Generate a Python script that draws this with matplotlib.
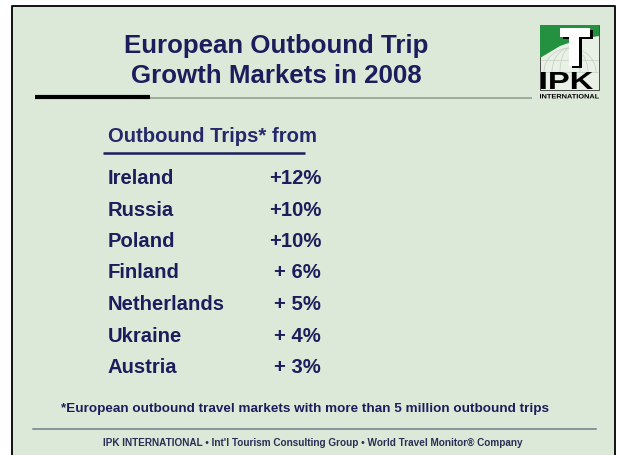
import matplotlib.pyplot as plt
from matplotlib.patches import Rectangle, Polygon, PathPatch, Arc
from matplotlib.textpath import TextPath
from matplotlib.font_manager import FontProperties
from matplotlib.transforms import Affine2D

# Table data
countries = ["Ireland", "Russia", "Poland", "Finland", "Netherlands", "Ukraine", "Austria"]
growth = [12, 10, 10, 6, 5, 4, 3]

title_lines = ["European Outbound Trip", "Growth Markets in 2008"]
table_header = "Outbound Trips* from"
footnote = "*European outbound travel markets with more than 5 million outbound trips"
footer = "IPK INTERNATIONAL \u2022 Int'l Tourism Consulting Group \u2022 World Travel Monitor\u00ae Company"

NAVY = "#1c1e5c"
BG = "#dce9d8"
FONT = "Liberation Sans"


def fitted_text(ax, s, x0, y0, x1, y1, color):
    """Draw text as a path stretched into the box (x0, y0)-(x1, y1)."""
    tp = TextPath((0, 0), s, size=1, prop=FontProperties(family=FONT, weight="bold"))
    ext = tp.get_extents()
    sx = (x1 - x0) / ext.width
    sy = (y1 - y0) / ext.height
    tr = Affine2D().translate(-ext.x0, -ext.y0).scale(sx, -sy).translate(x0, y1) + ax.transData
    ax.add_patch(PathPatch(tp, transform=tr, facecolor=color, lw=0, zorder=6))


def draw_logo(ax):
    # box with globe background
    ax.add_patch(Rectangle((540, 25), 59, 65, facecolor="#e9f0e6", edgecolor="#4a4a4a", lw=0.7, zorder=3))
    for w in (20, 36, 52):
        ax.add_patch(Arc((570, 72), w, 48, theta1=180, theta2=360, color="#c3cfc0", lw=0.5, zorder=3))
    ax.plot([541, 598], [60, 60], color="#c3cfc0", lw=0.5, zorder=3)
    ax.plot([541, 598], [72, 72], color="#c3cfc0", lw=0.5, zorder=3)
    # green sweep
    ax.add_patch(Polygon([(540, 25), (599, 25), (599, 36), (580, 39), (560, 46), (540, 58)],
                         closed=True, facecolor="#23913f", lw=0, zorder=4))
    # T with black shadow
    for dx, dy, c in ((2.5, 1.5, "black"), (0, 0, "white")):
        ax.add_patch(Rectangle((560 + dx, 28 + dy), 30, 9, facecolor=c, lw=0, zorder=5))
        ax.add_patch(Rectangle((569 + dx, 28 + dy), 10, 38, facecolor=c, lw=0, zorder=5))
    fitted_text(ax, "IPK", 541, 72, 593, 89, "black")
    fitted_text(ax, "INTERNATIONAL", 540, 94, 599, 98.5, "black")


def main():
    fig = plt.figure(figsize=(6.19, 4.55), dpi=100)
    ax = fig.add_axes([0, 0, 1, 1])
    ax.set_xlim(0, 619)
    ax.set_ylim(455, 0)
    ax.axis("off")

    # slide background and frame (no bottom edge, slide is cropped)
    ax.add_patch(Rectangle((12, 6), 603, 449, facecolor=BG, lw=0, zorder=0))
    ax.plot([12, 12, 615, 615], [455, 6, 6, 455], color="black", lw=1.3, zorder=1)

    # title
    for i, line in enumerate(title_lines):
        ax.text(276, 53 + 30 * i, line, ha="center", va="baseline", fontsize=18.6,
                fontweight="bold", color=NAVY, family=FONT)

    # title rule: thick black start then thin grey line
    ax.plot([150, 532], [98, 98], color="#8c9a8c", lw=1.1, solid_capstyle="butt")
    ax.plot([35, 150], [97, 97], color="black", lw=3, solid_capstyle="butt")

    draw_logo(ax)

    # table header and underline
    ax.text(108, 142, table_header, ha="left", va="baseline", fontsize=14.6,
            fontweight="bold", color="#25286a", family=FONT)
    ax.plot([103, 305], [153, 153], color=NAVY, lw=1.8, solid_capstyle="butt")

    # table rows
    for i, (name, val) in enumerate(zip(countries, growth)):
        yb = 184 + 31.5 * i
        ax.text(108, yb, name, ha="left", va="baseline", fontsize=14.6,
                fontweight="bold", color=NAVY, family=FONT)
        ax.text(321, yb, f"+{val:2d}%", ha="right", va="baseline", fontsize=14.6,
                fontweight="bold", color=NAVY, family=FONT)

    # footnote, separator and footer
    ax.text(305, 412, footnote, ha="center", va="baseline", fontsize=9.7,
            fontweight="bold", color=NAVY, family=FONT)
    ax.plot([33, 596], [429, 429], color="#6f7d8c", lw=1.1)
    ax.text(313, 445.5, footer, ha="center", va="baseline", fontsize=7.2,
            fontweight="bold", color="#2b2d55", family=FONT)

    fig.savefig("out.png", dpi=100)


if __name__ == "__main__":
    main()
